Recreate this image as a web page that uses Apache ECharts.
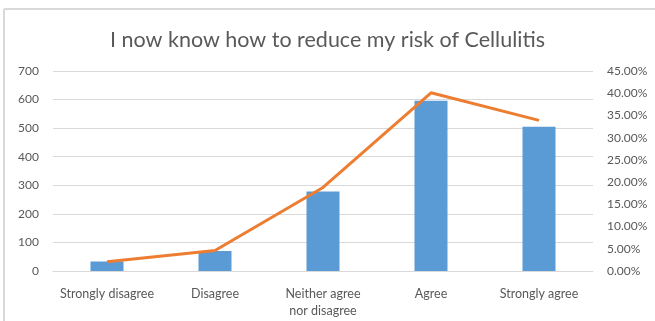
<!DOCTYPE html>
<html>
<head>
<meta charset="utf-8">
<script src="https://cdn.jsdelivr.net/npm/echarts@6/dist/echarts.min.js"></script>
<style>
  html, body { margin: 0; padding: 0; background: #fff; }
  #chart { width: 655px; height: 321px; }
</style>
</head>
<body>
<div id="chart"></div>
<script>
// Survey responses: counts (bars, left axis) and share of all responses (line, right axis)
const categories = ['Strongly disagree', 'Disagree', 'Neither agree\nnor disagree', 'Agree', 'Strongly agree'];
const counts = [33, 70, 278, 596, 505];
const shares = [0.021, 0.046, 0.188, 0.401, 0.339];
const countTicks = { min: 0, max: 700, interval: 100 };
const shareTicks = { min: 0, max: 0.45, interval: 0.05 };

const FONT = 'Lato';
const TEXT = '#595959';

const chart = echarts.init(document.getElementById('chart'), null, { renderer: 'canvas' });
chart.setOption({
  animation: false,
  backgroundColor: '#fff',
  title: {
    text: 'I now know how to reduce my risk of Cellulitis',
    left: 'center',
    top: 24,
    textStyle: { fontFamily: FONT, fontSize: 21.5, fontWeight: 'normal', color: TEXT }
  },
  graphic: [
    { type: 'line', shape: { x1: 4, y1: 9, x2: 655, y2: 9 }, style: { stroke: '#d9d9d9', lineWidth: 2 } },
    { type: 'line', shape: { x1: 4, y1: 9, x2: 4, y2: 321 }, style: { stroke: '#d9d9d9', lineWidth: 2 } }
  ],
  grid: { left: 53, right: 62, top: 71, bottom: 50 },
  xAxis: {
    type: 'category',
    data: categories,
    axisTick: { show: false },
    axisLine: { lineStyle: { color: '#d9d9d9' } },
    axisLabel: { fontFamily: FONT, fontSize: 12.5, color: TEXT, margin: 14, lineHeight: 17, interval: 0 }
  },
  yAxis: [
    {
      type: 'value',
      min: countTicks.min, max: countTicks.max, interval: countTicks.interval,
      axisLine: { show: false }, axisTick: { show: false },
      splitLine: { lineStyle: { color: '#d9d9d9' } },
      axisLabel: { fontFamily: FONT, fontSize: 12, color: TEXT, margin: 14 }
    },
    {
      type: 'value',
      min: shareTicks.min, max: shareTicks.max, interval: shareTicks.interval,
      axisLine: { show: false }, axisTick: { show: false },
      splitLine: { show: false },
      axisLabel: {
        fontFamily: FONT, fontSize: 12, color: TEXT, margin: 14,
        formatter: v => (v * 100).toFixed(2) + '%'
      }
    }
  ],
  series: [
    {
      type: 'bar',
      data: counts,
      yAxisIndex: 0,
      barWidth: 33,
      itemStyle: { color: '#5B9BD5' }
    },
    {
      type: 'line',
      data: shares,
      yAxisIndex: 1,
      symbol: 'none',
      lineStyle: { color: '#ED7D31', width: 3 }
    }
  ]
});
</script>
</body>
</html>
